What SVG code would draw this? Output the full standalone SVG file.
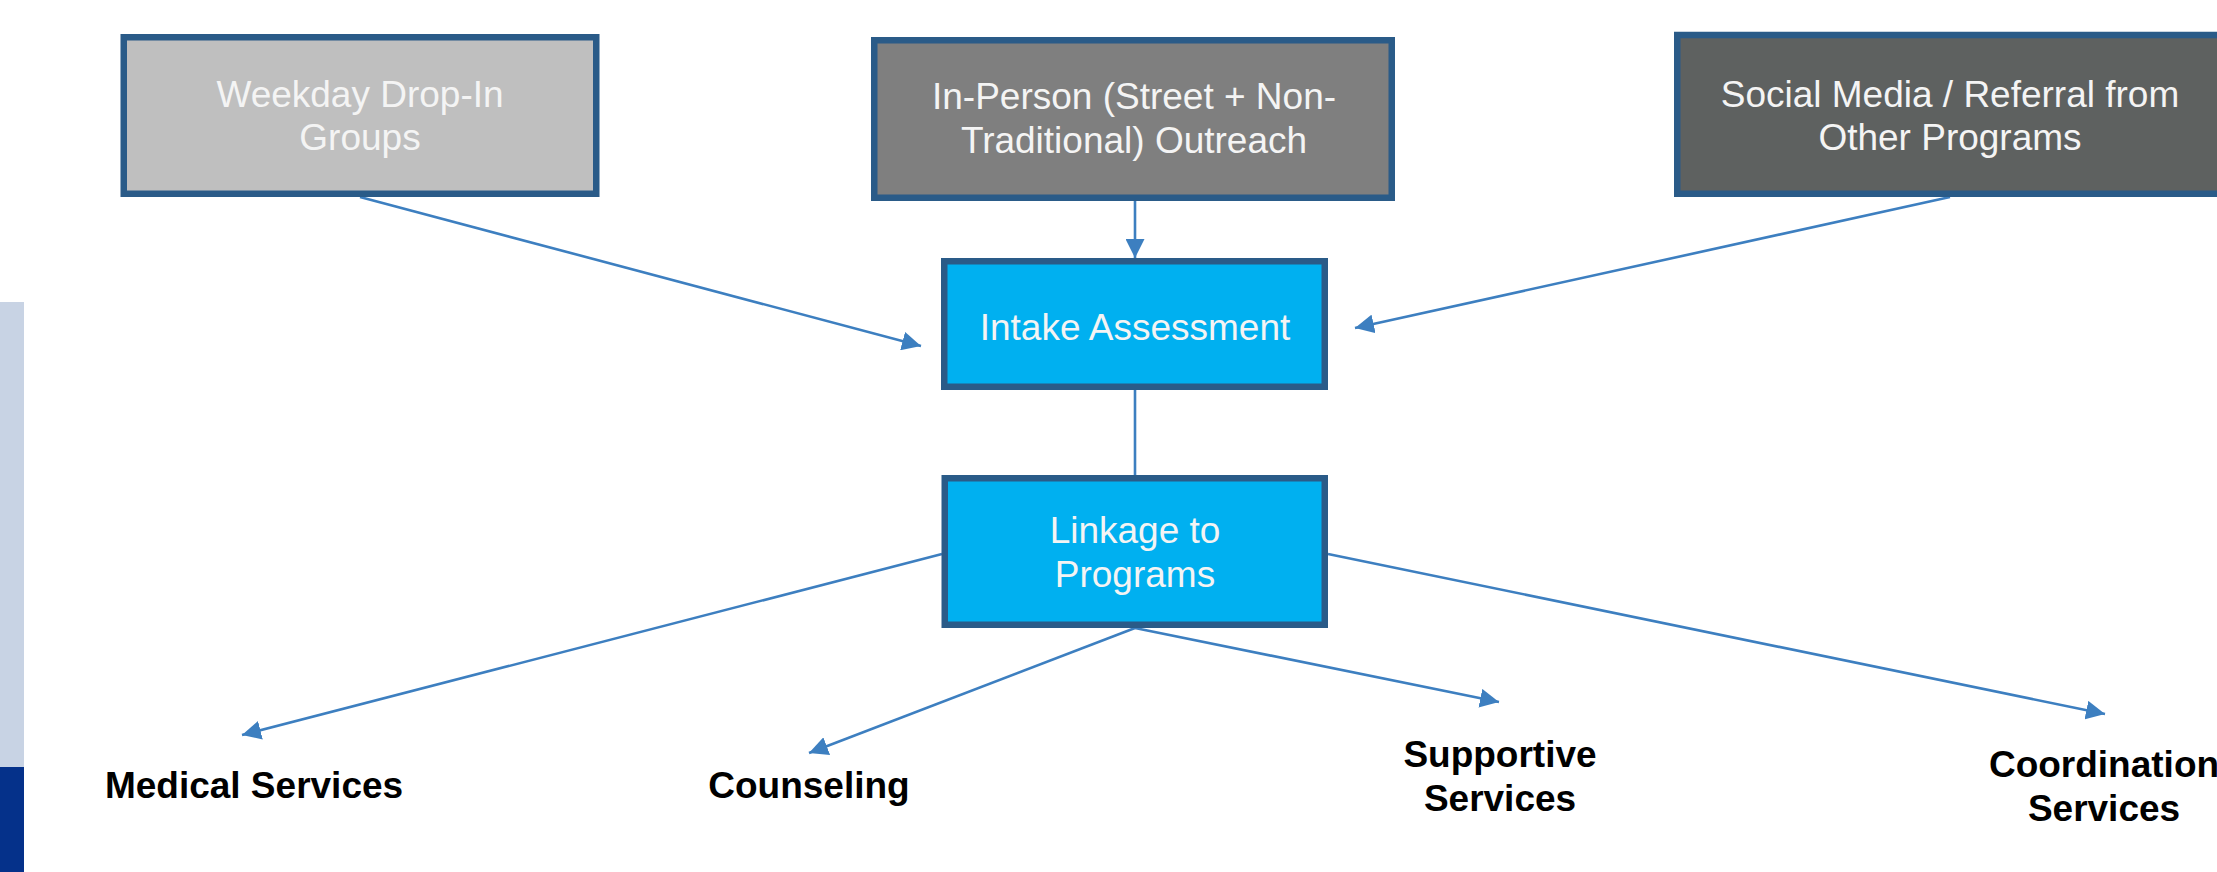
<svg xmlns="http://www.w3.org/2000/svg" width="2217" height="872" viewBox="0 0 2217 872">
<style>
.box{stroke:#2A5B88;stroke-width:6.5}
.t{font-family:"Liberation Sans",Arial,sans-serif;font-size:37px;fill:#F4F4F4;text-anchor:middle}
.lbl{font-family:"Liberation Sans",Arial,sans-serif;font-size:37px;font-weight:bold;fill:#000;text-anchor:middle}
.c{stroke:#3D7FC0;stroke-width:2.6;fill:none}
</style>
<defs>
<marker id="ah" markerUnits="userSpaceOnUse" markerWidth="19" markerHeight="19" viewBox="0 0 18 18" refX="18" refY="9" orient="auto">
<path d="M0,0 L18,9 L0,18 Z" fill="#3D7FC0"/>
</marker>
</defs>
<rect x="0" y="0" width="2217" height="872" fill="#FFFFFF"/>
<g id="side-stripe">
<rect x="0" y="302" width="24" height="465" fill="#C8D3E4"/>
<rect x="0" y="767" width="24" height="105" fill="#05318A"/>
</g>
<g id="connectors">
<line class="c" x1="360" y1="197" x2="921" y2="346" marker-end="url(#ah)"/>
<line class="c" x1="1135" y1="201" x2="1135" y2="258" marker-end="url(#ah)"/>
<line class="c" x1="1950" y1="197" x2="1355" y2="328" marker-end="url(#ah)"/>
<line class="c" x1="1135" y1="390" x2="1135" y2="475"/>
<line class="c" x1="942" y1="554" x2="242" y2="735" marker-end="url(#ah)"/>
<line class="c" x1="1135" y1="628" x2="809" y2="753" marker-end="url(#ah)"/>
<line class="c" x1="1135" y1="628" x2="1499" y2="702" marker-end="url(#ah)"/>
<line class="c" x1="1328" y1="554" x2="2105" y2="714" marker-end="url(#ah)"/>
</g>
<g id="weekday-drop-in">
<rect class="box" x="123.75" y="37.25" width="472.5" height="156.5" fill="#BFBFBF"/>
<text class="t" x="360" y="107">Weekday Drop-In</text>
<text class="t" x="360" y="150">Groups</text>
</g>
<g id="in-person">
<rect class="box" x="874.25" y="40.25" width="517.5" height="157.5" fill="#7F7F7F"/>
<text class="t" x="1134" y="109">In-Person (Street + Non-</text>
<text class="t" x="1134" y="153">Traditional) Outreach</text>
</g>
<g id="social-media">
<rect class="box" x="1677.25" y="35" width="560" height="158.75" fill="#5E6160"/>
<text class="t" x="1950" y="107">Social Media / Referral from</text>
<text class="t" x="1950" y="150">Other Programs</text>
</g>
<g id="intake">
<rect class="box" x="944.25" y="261.25" width="380.5" height="125.5" fill="#00B0F0"/>
<text class="t" x="1135" y="340">Intake Assessment</text>
</g>
<g id="linkage">
<rect class="box" x="944.75" y="478.25" width="380" height="146.5" fill="#00B0F0"/>
<text class="t" x="1135" y="543">Linkage to</text>
<text class="t" x="1135" y="587">Programs</text>
</g>
<g id="medical">
<text class="lbl" x="254" y="798">Medical Services</text>
</g>
<g id="counseling">
<text class="lbl" x="809" y="798">Counseling</text>
</g>
<g id="supportive">
<text class="lbl" x="1500" y="767">Supportive</text>
<text class="lbl" x="1500" y="811">Services</text>
</g>
<g id="coordination">
<text class="lbl" x="2104" y="777">Coordination</text>
<text class="lbl" x="2104" y="821">Services</text>
</g>
</svg>
